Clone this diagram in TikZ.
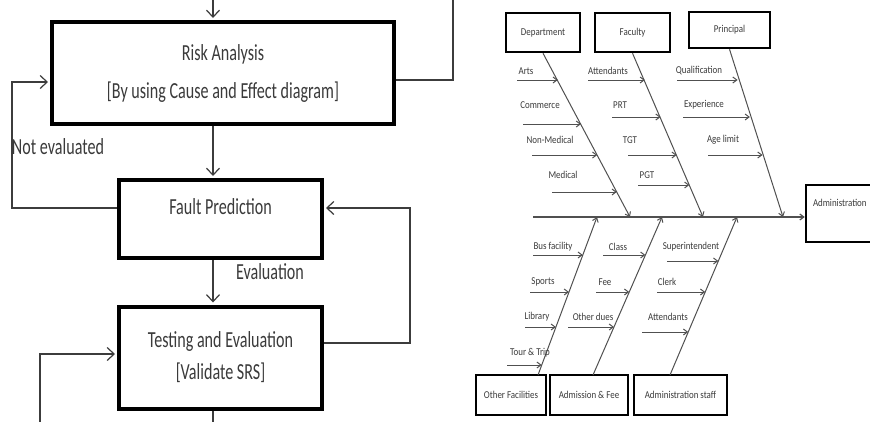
\documentclass[tikz,border=0pt]{standalone}
\usepackage{fontspec}
\setmainfont{Carlito}
\newfontfamily\lfont[FakeStretch=0.7]{Carlito}
\newfontfamily\rfont[FakeStretch=0.85]{Carlito}
\usetikzlibrary{arrows.meta,calc}
\definecolor{txt}{HTML}{3A3A3A}
\definecolor{ln}{HTML}{3C3C3C}
\definecolor{fl}{HTML}{505050}
\begin{document}
\begin{tikzpicture}[x=1pt,y=-1pt,
  bigbox/.style={draw=black,line width=4pt,inner sep=0pt,text=txt,align=center,
    font=\lfont\fontsize{23}{38}\selectfont},
  conn/.style={draw=ln,line width=1.4pt,-{Straight Barb[length=7pt,width=13pt,line width=1.2pt]},shorten >=2pt},
  plain/.style={draw=ln,line width=1.4pt},
  ltxt/.style={text=txt,inner sep=0pt,font=\lfont\fontsize{23}{26}\selectfont},
  sbox/.style={draw=black,line width=2.5pt,inner sep=0pt,text=txt,
    font=\rfont\fontsize{10.5}{12}\selectfont},
  lbl/.style={text=txt,inner sep=0pt,font=\rfont\fontsize{10.5}{12}\selectfont},
  bone/.style={draw=fl,line width=1pt,-{Straight Barb[length=4pt,width=6pt]}},
  sub/.style={draw=fl,line width=1pt,-{Straight Barb[length=4pt,width=6pt]}},
]
\useasboundingbox (0,0) rectangle (870,421);
% ---------------- left flow chart ----------------
\node[bigbox,minimum width=342,minimum height=102] (risk) at (223,73)
  {Risk Analysis\\{[By using Cause and Effect diagram]}};
\node[bigbox,minimum width=203,text height=34.5pt,text depth=43.5pt] (fault) at (220.5,219)
  {Fault Prediction};
\node[bigbox,minimum width=203,minimum height=102,font=\lfont\fontsize{23}{32}\selectfont] (test) at (220.5,357.5)
  {Testing and Evaluation\\{[Validate SRS]}};
\node[ltxt] (notev) at (58,147) {Not evaluated};
\node[ltxt] (evl) at (270,272) {Evaluation};

\coordinate (tin) at (213,-2);
\coordinate (tout) at (213,423);
\draw[conn] (tin) -- (tin |- risk.north);
\draw[conn] (risk.south -| tin) -- (fault.north -| tin);
\draw[conn] (fault.south -| tin) -- (test.north -| tin);
\draw[plain] (test.south -| tin) -- (tout);

\coordinate (lcorner) at (12,82);
\draw[conn] ([yshift=11pt]fault.west) -| (lcorner) -- ([yshift=-9pt]risk.west);
\coordinate (rtop) at (453,-2);
\draw[plain] ([yshift=-7pt]risk.east) -| (rtop);
\coordinate (rcorner) at (410,208);
\draw[conn] ([yshift=14.5pt]test.east) -| (rcorner) -- ([yshift=11pt]fault.east);
\coordinate (lbot) at (40,423);
\draw[conn] (lbot) |- ([yshift=3.5pt]test.west);

% ---------------- fishbone ----------------
\node[sbox,minimum width=74,minimum height=39] (dept) at (543,32.5) {Department};
\node[sbox,minimum width=75,minimum height=39] (fac) at (632.5,32.5) {Faculty};
\node[sbox,minimum width=81,minimum height=36] (prin) at (729.5,30) {Principal};
\node[sbox,minimum width=70,minimum height=40] (ofac) at (511,395) {Other Facilities};
\node[sbox,minimum width=78,minimum height=40] (adm) at (589,395) {Admission \& Fee};
\node[sbox,minimum width=93,minimum height=40] (astaff) at (680.5,395) {Administration staff};
\node[sbox,text width=76pt,align=left,inner xsep=7pt,text height=21pt,text depth=36pt] (admin) at (851,213.5) {Administration};

\coordinate (sp0) at (533,217);
\draw[bone,line width=1.2pt] (sp0) -- (sp0 -| admin.west);

\coordinate (dsp) at (630,217);
\coordinate (fsp) at (703,217);
\coordinate (psp) at (783,217);
\draw[bone] (dept.south) -- (dsp);
\draw[bone] (fac.south) -- (fsp);
\draw[bone] (prin.south) -- (psp);

\coordinate (ob) at (538,375);
\coordinate (ab) at (593,375);
\coordinate (sb) at (670,375);
\coordinate (osp) at (597,217);
\coordinate (asp) at (662,217);
\coordinate (ssp) at (737,217);
\draw[bone] (ob) -- (osp);
\draw[bone] (ab) -- (asp);
\draw[bone] (sb) -- (ssp);

\foreach \n/\sx/\ex/\y/\lab/\lx/\ly in {
  a/517/557.8/80/Arts/526/71,
  b/523/581/124/Commerce/540/105,
  c/532/597.3/155/Non-Medical/550/140,
  d/552/616.8/192/Medical/563/175,
  e/588/644.9/80/Attendants/608/71,
  f/612/660.6/117/PRT/620/105,
  g/628/676.7/155/TGT/630/140,
  h/638/689.4/185/PGT/647/175,
  i/677/737.6/80/Qualification/699/71,
  j/683/749.9/117/Experience/704/105,
  k/708/762.5/155/Age limit/723/140,
  l/533/582.8/255/Bus facility/553/247,
  m/530/569/292/Sports/543/282,
  n/525/555.9/327/Library/537/317,
  o/507/541.7/365/Tour \& Trip/530/353,
  p/603/645.4/255/Class/618/247,
  q/596/629.2/292/Fee/605/282,
  r/568/614/327/Other dues/593/317,
  s/667/718.3/261/Superintendent/691/247,
  t/657/705.2/292/Clerk/667/282,
  u/642/688.2/332/Attendants/668/317}
{
  \coordinate (a\n) at (\sx,\y);
  \coordinate (b\n) at (\ex,\y);
  \node[lbl] (l\n) at (\lx,\ly) {\lab};
  \draw[sub] (a\n) -- (b\n);
}
\end{tikzpicture}
\end{document}
